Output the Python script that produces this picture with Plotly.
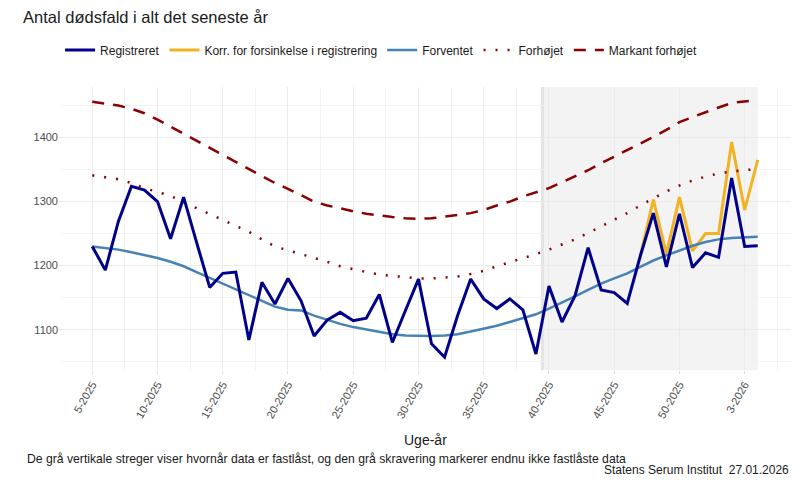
import plotly.graph_objects as go

# Uge-år labels, uge 5-2025 til 4-2026
weeks = [f"{w}-2025" for w in range(5, 53)] + [f"{w}-2026" for w in range(1, 5)]
tick_labels = ["5-2025", "10-2025", "15-2025", "20-2025", "25-2025", "30-2025",
               "35-2025", "40-2025", "45-2025", "50-2025", "3-2026"]

registreret = [1230, 1193, 1269, 1324, 1318, 1300, 1242, 1307, 1236, 1166,
               1188, 1190, 1084, 1174, 1140, 1180, 1145, 1090, 1115, 1127,
               1114, 1118, 1155, 1080, 1130, 1179, 1078, 1057, 1122, 1179,
               1148, 1133, 1148, 1131, 1062, 1168, 1112, 1153, 1228, 1162,
               1158, 1141, 1215, 1282, 1198, 1281, 1197, 1220, 1213, 1337,
               1230, 1231]

# korrigeret starter ved uge 47-2025
korr_start = 42
korrigeret = [1215, 1303, 1218, 1307, 1223, 1250, 1250, 1393, 1287, 1365]

forventet = [1230, 1228, 1225, 1221, 1217, 1212, 1206, 1199, 1190, 1181,
             1172, 1163, 1154, 1145, 1136, 1131, 1130, 1122, 1115, 1109,
             1104, 1100, 1096, 1093, 1091, 1090, 1090, 1091, 1093, 1097,
             1101, 1106, 1112, 1118, 1124, 1133, 1142, 1152, 1162, 1172,
             1180, 1188, 1198, 1208, 1216, 1224, 1231, 1237, 1241, 1243,
             1244, 1245]

forhoejet = [1341, 1338, 1335, 1329, 1321, 1315, 1309, 1299, 1290, 1281,
             1272, 1262, 1253, 1241, 1230, 1224, 1218, 1213, 1206, 1199,
             1194, 1190, 1186, 1184, 1182, 1180, 1180, 1181, 1183, 1187,
             1192, 1199, 1205, 1212, 1218, 1225, 1233, 1241, 1251, 1261,
             1272, 1282, 1294, 1305, 1316, 1325, 1333, 1339, 1344, 1347,
             1349, 1351]

markant = [1456, 1453, 1450, 1445, 1438, 1428, 1417, 1406, 1396, 1384,
           1373, 1362, 1352, 1340, 1329, 1320, 1310, 1300, 1294, 1289,
           1285, 1281, 1278, 1276, 1274, 1273, 1274, 1276, 1279, 1282,
           1287, 1294, 1300, 1308, 1314, 1321, 1330, 1339, 1349, 1360,
           1370, 1381, 1391, 1401, 1412, 1424, 1432, 1440, 1447, 1454,
           1457, 1459]

# fastlåst grænse ligger mellem uge 39 og 40
locked_until = 34.5

x = list(range(len(weeks)))
tick_pos = [weeks.index(t) for t in tick_labels]
minor_pos = [p - 2.5 for p in tick_pos] + [tick_pos[-1] + 2.5]

fig = go.Figure()

fig.add_trace(go.Scatter(x=x[korr_start:], y=korrigeret, mode="lines",
                         name="Korr. for forsinkelse i registrering",
                         line=dict(color="#f0b323", width=3), legendrank=2))
fig.add_trace(go.Scatter(x=x, y=forventet, mode="lines", name="Forventet",
                         line=dict(color="#4682b4", width=2.5), legendrank=3))
fig.add_trace(go.Scatter(x=x, y=forhoejet, mode="lines", name="Forhøjet",
                         line=dict(color="#8b0000", width=2.5, dash="2px,10px"),
                         legendrank=4))
fig.add_trace(go.Scatter(x=x, y=markant, mode="lines", name="Markant forhøjet",
                         line=dict(color="#8b0000", width=2.5, dash="12px,9px"),
                         legendrank=5))
fig.add_trace(go.Scatter(x=x, y=registreret, mode="lines", name="Registreret",
                         line=dict(color="#00008b", width=3), legendrank=1))

# skravering for ikke fastlåste data
fig.add_shape(type="rect", xref="x", yref="paper", x0=locked_until, x1=x[-1],
              y0=0, y1=1, fillcolor="#f3f3f3", line_width=0, layer="below")
fig.add_shape(type="line", xref="x", yref="paper", x0=locked_until, x1=locked_until,
              y0=0, y1=1, line=dict(color="#e3e3e3", width=3), layer="below")

fig.update_xaxes(range=[-2.55, 53.55], tickmode="array", tickvals=tick_pos,
                 ticktext=tick_labels, tickangle=-60, showline=False, zeroline=False,
                 gridcolor="#ebebeb", gridwidth=1.2,
                 ticks="outside", ticklen=3, tickcolor="#dddddd",
                 tickfont=dict(size=11, color="#4d4d4d"),
                 minor=dict(tickmode="array", tickvals=minor_pos, showgrid=True,
                            gridcolor="#f3f3f3", gridwidth=0.8))
fig.update_yaxes(range=[1037, 1479], dtick=100, showline=False, zeroline=False,
                 gridcolor="#ebebeb", gridwidth=1.2,
                 tickfont=dict(size=11, color="#4d4d4d"),
                 minor=dict(dtick=50, showgrid=True, gridcolor="#f3f3f3", gridwidth=0.8))

# siden har 8px kant, så figuren gøres tilsvarende mindre
fig.update_layout(
    width=792, height=472,
    margin=dict(l=51, r=9, t=79, b=110),
    plot_bgcolor="white", paper_bgcolor="white",
    font=dict(family="Liberation Sans, Arial, sans-serif", color="#1a1a1a"),
    title=dict(text="Antal dødsfald i alt det seneste år", x=0.019, xanchor="left",
               y=0.992, yanchor="top", pad=dict(t=0), font=dict(size=16.5, color="#1a1a1a")),
    legend=dict(orientation="h", x=0.44, xanchor="center", y=1.131, yanchor="middle",
                font=dict(size=12), itemwidth=30, traceorder="normal"),
    annotations=[
        dict(text="Uge-år", xref="paper", yref="paper", x=0.5, y=-0.247,
             xanchor="center", yanchor="middle", showarrow=False, font=dict(size=14)),
        dict(text="De grå vertikale streger viser hvornår data er fastlåst, og den grå skravering markerer endnu ikke fastlåste data",
             xref="paper", yref="paper", x=-0.047, y=-0.314, xanchor="left",
             yanchor="middle", showarrow=False, font=dict(size=12.2)),
        dict(text="Statens Serum Institut\u00a0 27.01.2026", xref="paper", yref="paper",
             x=1.0, y=-0.353, xanchor="right", yanchor="middle", showarrow=False,
             font=dict(size=12)),
    ],
)

fig.write_html("out.html")
